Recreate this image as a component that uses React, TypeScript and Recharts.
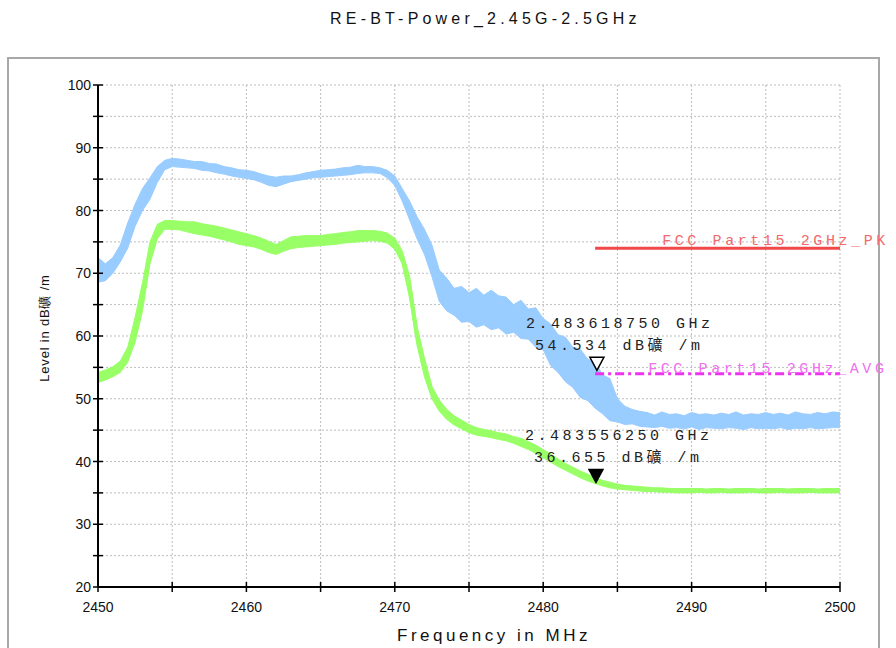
import React from 'react'
import { ComposedChart, Area, Line, XAxis, YAxis, CartesianGrid, ReferenceLine, ReferenceDot } from 'recharts'

// frequency grid in MHz, 0.5 MHz steps
const freq = [
  2450, 2450.5, 2451, 2451.5, 2452, 2452.5, 2453, 2453.5, 2454, 2454.5,
  2455, 2455.5, 2456, 2456.5, 2457, 2457.5, 2458, 2458.5, 2459, 2459.5,
  2460, 2460.5, 2461, 2461.5, 2462, 2462.5, 2463, 2463.5, 2464, 2464.5,
  2465, 2465.5, 2466, 2466.5, 2467, 2467.5, 2468, 2468.5, 2469, 2469.5,
  2470, 2470.5, 2471, 2471.5, 2472, 2472.5, 2473, 2473.5, 2474, 2474.5,
  2475, 2475.5, 2476, 2476.5, 2477, 2477.5, 2478, 2478.5, 2479, 2479.5,
  2480, 2480.5, 2481, 2481.5, 2482, 2482.5, 2483, 2483.5, 2484, 2484.5,
  2485, 2485.5, 2486, 2486.5, 2487, 2487.5, 2488, 2488.5, 2489, 2489.5,
  2490, 2490.5, 2491, 2491.5, 2492, 2492.5, 2493, 2493.5, 2494, 2494.5,
  2495, 2495.5, 2496, 2496.5, 2497, 2497.5, 2498, 2498.5, 2499, 2499.5,
  2500,
]

// peak trace (blue), lower / upper edge of the noise band
const peakLo = [
  68.6, 68.8, 70.0, 71.8, 74.0, 77.5, 80.0, 81.8, 84.5, 86.5,
  87.0, 86.9, 86.8, 86.7, 86.4, 86.3, 86.0, 85.8, 85.5, 85.3,
  85.1, 84.9, 84.5, 84.0, 83.8, 84.2, 84.6, 84.8, 85.0, 85.2,
  85.3, 85.4, 85.5, 85.6, 85.7, 85.9, 86.0, 86.0, 85.9, 85.2,
  84.0, 81.5, 78.5, 75.5, 73.0, 69.5, 65.5, 64.0, 63.3, 62.2,
  62.3, 61.4, 61.8, 61.0, 61.3, 60.3, 60.6, 59.6, 59.5, 58.2,
  57.8, 55.3, 54.2, 52.7, 51.8, 50.2, 49.7, 48.5, 47.6, 46.5,
  46.3, 45.9, 46.0, 45.6, 45.5, 45.4, 45.6, 45.3, 45.4, 45.2,
  45.5, 45.1, 45.4, 45.3, 45.2, 45.4, 45.3, 45.1, 45.4, 45.2,
  45.3, 45.2, 45.4, 45.1, 45.3, 45.2, 45.4, 45.2, 45.3, 45.4,
  45.4,
]
const peakHi = [
  72.5, 71.5, 72.5, 74.5, 78.0, 81.0, 83.5, 85.2, 87.0, 88.0,
  88.3, 88.2, 88.0, 87.8, 87.8, 87.5, 87.4, 87.0, 86.8, 86.5,
  86.4, 86.2, 85.8, 85.5, 85.3, 85.5, 85.5, 85.7, 86.0, 86.2,
  86.4, 86.5, 86.6, 86.8, 86.9, 87.2, 87.0, 87.0, 86.8, 86.4,
  85.5, 83.5, 81.5, 79.0, 77.0, 74.5, 70.5, 69.2, 67.6, 67.9,
  66.9, 67.6, 66.5, 67.3, 66.4, 66.2, 65.0, 65.7, 64.3, 64.5,
  62.8, 61.9, 60.2, 59.8, 58.2, 57.9, 56.3, 55.9, 53.8, 53.2,
  50.0, 48.8, 48.3, 48.0, 47.8, 47.4, 47.9, 47.5, 47.6, 47.3,
  47.8, 47.5, 47.6, 47.4, 47.7, 47.5, 47.9, 47.4, 47.6, 47.5,
  47.8, 47.5, 47.7, 47.4, 47.9, 47.6, 47.5, 47.8, 47.6, 47.9,
  47.8,
]

// average trace (green)
const avgLo = [
  52.6, 53.0, 53.5, 54.2, 55.8, 59.0, 64.0, 71.5, 75.5, 77.0,
  77.0, 76.9, 76.6, 76.3, 76.1, 75.9, 75.6, 75.3, 75.0, 74.6,
  74.4, 74.2, 73.8, 73.3, 73.0, 73.5, 73.9, 74.1, 74.2, 74.3,
  74.4, 74.5, 74.6, 74.8, 74.9, 75.0, 75.1, 75.2, 75.1, 74.8,
  73.8, 71.5, 66.0, 58.5, 53.5, 50.0, 48.0, 46.7, 45.8, 45.2,
  44.6, 44.2, 44.0, 43.8, 43.5, 43.3, 42.9, 42.4, 41.9, 41.3,
  40.6, 39.9, 39.2, 38.6, 38.0, 37.4, 36.9, 36.5, 36.1, 35.8,
  35.6, 35.5, 35.4, 35.3, 35.2, 35.2, 35.1, 35.1, 35.0, 35.0,
  35.0, 35.1, 35.0, 35.0, 35.1, 35.0, 35.0, 35.0, 35.1, 35.0,
  35.0, 35.0, 35.1, 35.0, 35.0, 35.0, 35.1, 35.0, 35.0, 35.0,
  35.0,
]
const avgHi = [
  54.2, 54.6, 55.1, 56.0, 58.2, 63.0, 68.5, 75.0, 77.8, 78.4,
  78.4, 78.3, 78.2, 78.2, 77.9, 77.7, 77.5, 77.2, 76.9, 76.6,
  76.3, 76.0, 75.6, 75.1, 74.6, 75.2, 75.8, 75.9, 76.0, 76.0,
  76.0, 76.2, 76.3, 76.5, 76.6, 76.8, 76.8, 76.8, 76.7, 76.4,
  75.6, 73.6, 69.5, 61.5, 56.5, 52.0, 49.8, 48.3, 47.3, 46.6,
  45.9, 45.4, 45.1, 44.9, 44.6, 44.4, 44.0, 43.7, 43.2, 42.6,
  41.9, 41.2, 40.4, 39.7, 39.1, 38.5, 38.0, 37.4, 37.0, 36.7,
  36.4, 36.2, 36.1, 36.0, 35.9, 35.8, 35.8, 35.7, 35.7, 35.7,
  35.7, 35.7, 35.6, 35.7, 35.7, 35.6, 35.7, 35.7, 35.7, 35.6,
  35.7, 35.7, 35.7, 35.6, 35.7, 35.7, 35.7, 35.6, 35.7, 35.7,
  35.7,
]

const xTicks = [2450, 2455, 2460, 2465, 2470, 2475, 2480, 2485, 2490, 2495, 2500]
const yTicks = [20, 25, 30, 35, 40, 45, 50, 55, 60, 65, 70, 75, 80, 85, 90, 95, 100]

// limit lines
const limitStart = 2483.5
const limitEnd = 2500
const pkLimit = 74
const avgLimit = 54
const pkName = 'FCC Part15 2GHz_PK'
const avgName = 'FCC Part15 2GHz_AVG'

// markers
const peakMarker = { f: 2483.61875, v: 54.534, freqText: '2.483618750 GHz', levelText: '54.534 dB礦 /m' }
const avgMarker = { f: 2483.55625, v: 36.655, freqText: '2.483556250 GHz', levelText: '36.655 dB礦 /m' }

const chartData = freq.map((f, i) => ({
  f,
  peak: [peakLo[i], peakHi[i]],
  peakMid: (peakLo[i] + peakHi[i]) / 2,
  avg: [avgLo[i], avgHi[i]],
  avgMid: (avgLo[i] + avgHi[i]) / 2,
}))

const sans = '"Liberation Sans", Arial, sans-serif'
const mono = '"Liberation Mono", "Noto Sans CJK SC", monospace'

const XTick = ({ x, y, payload }: any) => (
  <g>
    <line x1={x} x2={x} y1={y - 10} y2={y} stroke="#000" strokeWidth={1.5} />
    {payload.value % 10 === 0 && (
      <text x={x} y={y + 20} textAnchor="middle" fontSize={14} fontFamily={sans} fill="#111">
        {payload.value}
      </text>
    )}
  </g>
)

const YTick = ({ x, y, payload }: any) => (
  <g>
    <line x1={x} x2={x + 10} y1={y} y2={y} stroke="#000" strokeWidth={1.5} />
    {payload.value % 10 === 0 && (
      <text x={x - 2} y={y + 5} textAnchor="end" fontSize={14} fontFamily={sans} fill="#111">
        {payload.value}
      </text>
    )}
  </g>
)

const markerShape = (m: typeof peakMarker, filled: boolean) => (props: any) => {
  const { cx, cy } = props
  return (
    <g>
      <polygon
        points={`${cx - 7},${cy - 13} ${cx + 7},${cy - 13} ${cx},${cy}`}
        fill={filled ? '#000' : '#fff'}
        stroke="#000"
        strokeWidth={1.5}
      />
      <text x={cx - 71} y={cy - 42} fontSize={15} fontFamily={mono} letterSpacing={3.5} fill="#222">
        {m.freqText}
      </text>
      <text x={cx - 62} y={cy - 20} fontSize={15} fontFamily={mono} letterSpacing={3.5} fill="#222">
        {m.levelText}
      </text>
    </g>
  )
}

const limitText = (text: string, color: string, dx: number, dy: number) => (props: any) => (
  <text x={props.cx + dx} y={props.cy + dy} fontSize={15} fontFamily={mono} letterSpacing={3.6} fill={color}>
    {text}
  </text>
)

export default function App() {
  return (
    <div style={{ position: 'absolute', left: 0, top: 0, width: 896, height: 648, overflow: 'hidden', background: '#fff' }}>
      <div
        style={{
          position: 'absolute', left: 7, top: 57, width: 873, height: 620, boxSizing: 'border-box',
          borderTop: '2px solid #a8a8a8', borderLeft: '2px solid #a8a8a8', borderRight: '2px solid #a8a8a8',
        }}
      />
      <div
        style={{
          position: 'absolute', left: 330, top: 10, fontFamily: sans, fontSize: 16, lineHeight: '17px',
          letterSpacing: 4.2, color: '#111', whiteSpace: 'nowrap',
        }}
      >
        RE-BT-Power_2.45G-2.5GHz
      </div>
      <div
        style={{
          position: 'absolute', left: 397, top: 626, fontFamily: sans, fontSize: 17, lineHeight: '20px',
          letterSpacing: 3.5, color: '#111', whiteSpace: 'nowrap',
        }}
      >
        Frequency in MHz
      </div>
      <div
        style={{
          position: 'absolute', left: -35, top: 320, width: 160, textAlign: 'center', fontFamily: sans,
          fontSize: 13, lineHeight: '16px', letterSpacing: 0.8, color: '#111', whiteSpace: 'nowrap',
          transform: 'rotate(-90deg)',
        }}
      >
        Level in dB礦 /m
      </div>
      <div style={{ position: 'absolute', left: 0, top: 0 }}>
        <ComposedChart width={896} height={648} data={chartData} margin={{ top: 85, right: 56, bottom: 31, left: 38 }}>
          <CartesianGrid stroke="#bdbdbd" strokeDasharray="2 2" />
          <XAxis
            dataKey="f"
            type="number"
            domain={[2450, 2500]}
            ticks={xTicks}
            height={30}
            tickSize={5}
            tickMargin={0}
            tickLine={false}
            axisLine={{ stroke: '#000', strokeWidth: 2 }}
            tick={<XTick />}
            allowDataOverflow
          />
          <YAxis
            type="number"
            domain={[20, 100]}
            ticks={yTicks}
            width={60}
            tickSize={5}
            tickMargin={0}
            tickLine={false}
            axisLine={{ stroke: '#000', strokeWidth: 2 }}
            tick={<YTick />}
            allowDataOverflow
          />
          <Area dataKey="peak" type="linear" stroke="#99ccff" strokeWidth={1} fill="#99ccff" fillOpacity={1} dot={false} activeDot={false} isAnimationActive={false} />
          <Line dataKey="peakMid" type="linear" stroke="#99ccff" strokeWidth={2} dot={false} activeDot={false} isAnimationActive={false} />
          <Area dataKey="avg" type="linear" stroke="#99ff66" strokeWidth={1} fill="#99ff66" fillOpacity={1} dot={false} activeDot={false} isAnimationActive={false} />
          <Line dataKey="avgMid" type="linear" stroke="#99ff66" strokeWidth={4} dot={false} activeDot={false} isAnimationActive={false} />
          <ReferenceLine segment={[{ x: limitStart, y: pkLimit }, { x: limitEnd, y: pkLimit }]} stroke="#f04848" strokeWidth={3} />
          <ReferenceLine
            segment={[{ x: limitStart, y: avgLimit }, { x: limitEnd, y: avgLimit }]}
            stroke="#ee33ee"
            strokeWidth={3}
            strokeDasharray="9 4 3 4"
          />
          <ReferenceDot x={limitStart} y={pkLimit} r={0} shape={limitText(pkName, '#f26a6a', 67, -3)} ifOverflow="visible" />
          <ReferenceDot x={limitStart} y={avgLimit} r={0} shape={limitText(avgName, '#f070f0', 53, -1)} ifOverflow="visible" />
          <ReferenceDot x={peakMarker.f} y={peakMarker.v} shape={markerShape(peakMarker, false)} ifOverflow="visible" />
          <ReferenceDot x={avgMarker.f} y={avgMarker.v} shape={markerShape(avgMarker, true)} ifOverflow="visible" />
        </ComposedChart>
      </div>
    </div>
  )
}
